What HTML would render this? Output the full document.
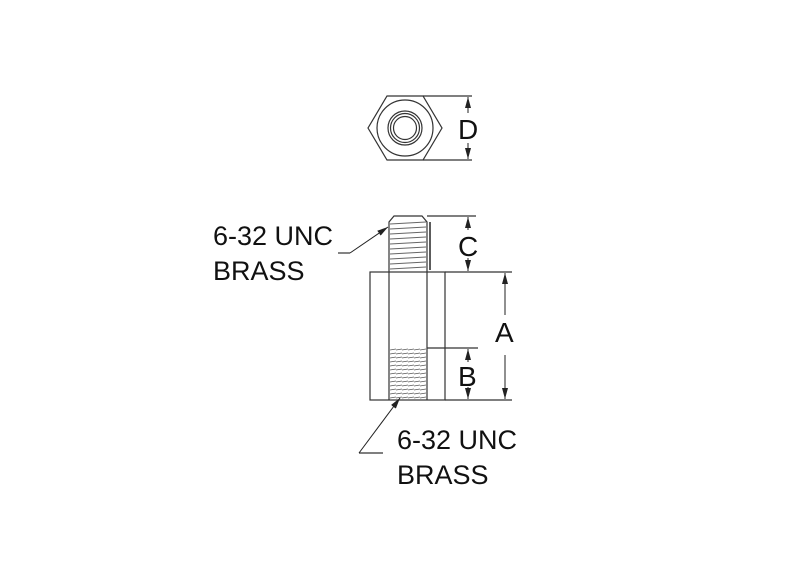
<!DOCTYPE html>
<html><head><style>
html,body{margin:0;padding:0;background:#fff;}
svg{display:block;}
text{font-family:"Liberation Sans",sans-serif;fill:#111;}
</style></head><body>
<svg width="800" height="577" viewBox="0 0 800 577" xmlns="http://www.w3.org/2000/svg">
<defs>
<marker id="ar" viewBox="0 0 10 10" refX="10" refY="5" markerUnits="userSpaceOnUse" markerWidth="11" markerHeight="6" orient="auto-start-reverse" preserveAspectRatio="none"><path d="M0,0 L10,5 L0,10 z" fill="#222"/></marker>
<pattern id="th" width="6" height="4" patternUnits="userSpaceOnUse"><path d="M0,2 L6,1" stroke="#555" stroke-width="0.8"/></pattern>
</defs>
<g fill="none" stroke="#333" stroke-width="1.2">
<polygon points="387,96 423,96 442,128 423,160 387,160 368,128"/>
<circle cx="405" cy="128" r="28"/>
<circle cx="405" cy="128" r="17"/>
<circle cx="405" cy="128" r="14.5"/>
<circle cx="405" cy="128" r="11.5"/>
<line x1="423" y1="96" x2="472" y2="96"/>
<line x1="423" y1="160" x2="472" y2="160"/>
<path d="M389,272 L389,222 L394,216 L422,216 L427,222 L427,272"/>
<line x1="430" y1="222" x2="430" y2="270" stroke-width="1.6"/>
<rect x="370" y="272" width="75" height="128"/>
<line x1="389" y1="272" x2="389" y2="400"/>
<line x1="427" y1="272" x2="427" y2="400"/>
<line x1="427" y1="216" x2="476" y2="216"/>
<line x1="445" y1="272" x2="512" y2="272"/>
<line x1="445" y1="400" x2="512" y2="400"/>
<line x1="427" y1="348" x2="478" y2="348"/>
<line x1="338" y1="253" x2="350" y2="253"/>
<line x1="359" y1="453" x2="383" y2="453"/>
</g>
<g stroke="#666" stroke-width="0.9">
<line x1="390" y1="224" x2="426" y2="222"/><line x1="390" y1="229" x2="426" y2="227"/>
<line x1="390" y1="234" x2="426" y2="232"/><line x1="390" y1="239" x2="426" y2="237"/>
<line x1="390" y1="244" x2="426" y2="242"/><line x1="390" y1="249" x2="426" y2="247"/>
<line x1="390" y1="254" x2="426" y2="252"/><line x1="390" y1="259" x2="426" y2="257"/>
<line x1="390" y1="264" x2="426" y2="262"/><line x1="390" y1="269" x2="426" y2="267"/>
</g>
<rect x="390" y="348" width="36" height="52" fill="url(#th)"/>
<g stroke="#222" stroke-width="1" fill="none">
<line x1="468" y1="97" x2="468" y2="113" marker-start="url(#ar)"/>
<line x1="468" y1="143" x2="468" y2="159" marker-end="url(#ar)"/>
<line x1="468" y1="217" x2="468" y2="230" marker-start="url(#ar)"/>
<line x1="468" y1="258" x2="468" y2="271" marker-end="url(#ar)"/>
<line x1="505" y1="273" x2="505" y2="315" marker-start="url(#ar)"/>
<line x1="505" y1="355" x2="505" y2="399" marker-end="url(#ar)"/>
<line x1="468" y1="349" x2="468" y2="362" marker-start="url(#ar)"/>
<line x1="468" y1="387" x2="468" y2="399" marker-end="url(#ar)"/>
<line x1="350" y1="253" x2="388" y2="227" marker-end="url(#ar)"/>
<line x1="359" y1="453" x2="400" y2="398" marker-end="url(#ar)"/>
</g>
<text x="458" y="139" font-size="28">D</text>
<text x="458" y="256" font-size="28">C</text>
<text x="495" y="342" font-size="28">A</text>
<text x="458" y="386" font-size="28">B</text>
<text x="213" y="245" font-size="27">6-32 UNC</text>
<text x="213" y="280" font-size="27">BRASS</text>
<text x="397" y="449" font-size="27">6-32 UNC</text>
<text x="397" y="484" font-size="27">BRASS</text>
</svg>
</body></html>
